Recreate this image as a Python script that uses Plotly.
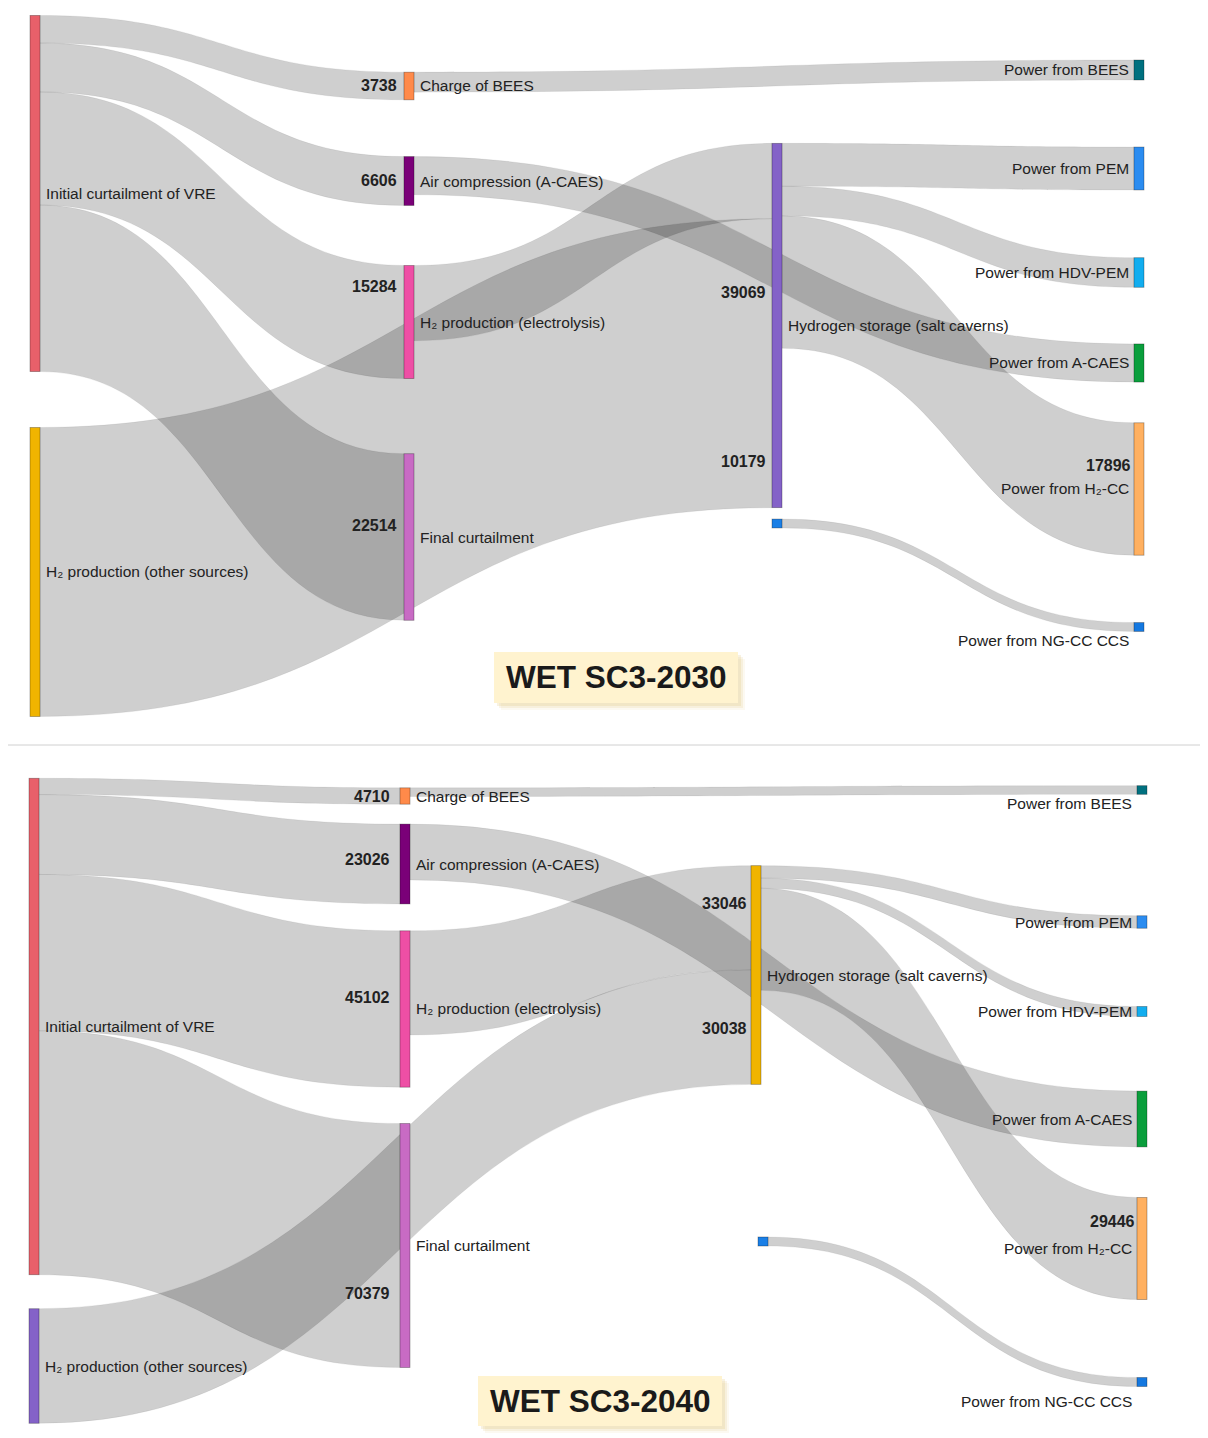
import plotly.graph_objects as go

# canvas size in px (margins are zero, the page adds an 8px body margin)
W, H = 1208, 1438
OFF = 8

# ---- data ---------------------------------------------------------------
node_labels = [
    "Initial curtailment of VRE",
    "H₂ production (other sources)",
    "Charge of BEES",
    "Air compression (A-CAES)",
    "H₂ production (electrolysis)",
    "Final curtailment",
    "Hydrogen storage (salt caverns)",
    "",
    "Power from BEES",
    "Power from PEM",
    "Power from HDV-PEM",
    "Power from A-CAES",
    "Power from H₂-CC",
    "Power from NG-CC CCS",
]
link_source = [0, 0, 0, 0, 1, 4, 2, 3, 6, 6, 6, 7]
link_target = [2, 3, 4, 5, 6, 6, 8, 11, 9, 10, 12, 13]
values_2030 = [3738, 6606, 15284, 22514, 39069, 10179, 2700, 5150, 5800, 4000, 17896, 1200]
values_2040 = [4710, 23026, 45102, 70379, 33046, 30038, 2500, 16100, 3600, 2900, 29446, 2600]
titles = ["WET SC3-2030", "WET SC3-2040"]

# ---- styling ------------------------------------------------------------
colors_2030 = ["#E8606A", "#F0B400", "#FF8A4A", "#7A0078", "#EE4FA5", "#C86BC4", "#8462C8",
               "#1A7FE6", "#00707F", "#2B8CF0", "#12ADEF", "#0A9E3C", "#FFB060", "#1478E0"]
colors_2040 = list(colors_2030)
colors_2040[1] = "#8462C8"
colors_2040[6] = "#F0B400"

LINK_COLOR = "rgba(0,0,0,0.19)"
FONT = "Arial, Liberation Sans, sans-serif"
TEXT = "#222222"

# node centres in screen pixels for each panel, plus domain (top, bottom) and node padding
panels = [
    dict(
        values=values_2030, colors=colors_2030, top=8, bottom=728, pad=33,
        x=[35, 35, 409, 409, 409, 409, 777, 777, 1139, 1139, 1139, 1139, 1139, 1139],
        y=[193.5, 572, 86, 181, 322, 537, 325.5, 523.5, 70, 168.5, 272.5, 363, 489, 627],
        label_dy={13: 14},
        numbers=[(0, 399, 86), (1, 399, 180), (2, 399, 287), (3, 399, 525),
                 (4, 768, 292), (5, 768, 462), (10, 1133, 466)],
        box=(494, 652, 738, 703),
    ),
    dict(
        values=values_2040, colors=colors_2040, top=768, bottom=1446, pad=29,
        x=[34, 34, 405, 405, 405, 405, 756, 763, 1142, 1142, 1142, 1142, 1142, 1142],
        y=[1026.5, 1366, 796, 864, 1009, 1245.5, 975, 1241.5, 790, 922, 1011.5, 1119, 1248.5, 1382],
        label_dy={8: 13, 13: 19},
        numbers=[(0, 392, 796), (1, 392, 860), (2, 392, 997), (3, 392, 1293),
                 (4, 749, 903), (5, 749, 1028), (10, 1137, 1221)],
        box=(478, 1376, 722, 1426),
    ),
]

RIGHT_COLUMN = {8, 9, 10, 11, 12, 13}


def px(x):
    return (x - OFF) / W


def py(y):
    return 1 - (y - OFF) / H


fig = go.Figure()
annotations = []
shapes = []

for p, title in zip(panels, titles):
    span = p["bottom"] - p["top"]
    fig.add_trace(go.Sankey(
        arrangement="fixed",
        domain=dict(x=[0, 1], y=[max(0, py(p["bottom"])), min(1, py(p["top"]))]),
        textfont=dict(color="rgba(0,0,0,0)", size=1),
        node=dict(
            label=node_labels,
            color=p["colors"],
            x=[px(xx) for xx in p["x"]],
            y=[(yy - p["top"]) / span for yy in p["y"]],
            pad=p["pad"],
            thickness=10,
            line=dict(color="rgba(0,0,0,0.35)", width=0.8),
        ),
        link=dict(
            source=link_source,
            target=link_target,
            value=p["values"],
            color=LINK_COLOR,
            line=dict(color="rgba(0,0,0,0.12)", width=0.5),
        ),
    ))

    # node labels
    for i, name in enumerate(node_labels):
        if not name:
            continue
        right = i in RIGHT_COLUMN
        annotations.append(dict(
            x=px(p["x"][i] - 8 if right else p["x"][i] + 9),
            y=py(p["y"][i] + p["label_dy"].get(i, 0)),
            xref="paper", yref="paper", showarrow=False,
            xanchor="right" if right else "left", yanchor="middle",
            text=name, font=dict(family=FONT, size=15.5, color=TEXT),
        ))

    # bold flow values
    for li, xr, yv in p["numbers"]:
        annotations.append(dict(
            x=px(xr), y=py(yv), xref="paper", yref="paper", showarrow=False,
            xanchor="right", yanchor="middle",
            text=f"<b>{p['values'][li]}</b>",
            font=dict(family=FONT, size=16, color=TEXT),
        ))

    # title box with soft shadow
    x0, y0, x1, y1 = p["box"]
    for d, a in [(7, 0.10), (5, 0.16), (3, 0.22)]:
        shapes.append(dict(type="rect", xref="paper", yref="paper",
                           x0=px(x0 + d), x1=px(x1 + d), y0=py(y1 + d), y1=py(y0 + d),
                           fillcolor=f"rgba(225,195,120,{a})", line=dict(width=0), layer="above"))
    shapes.append(dict(type="rect", xref="paper", yref="paper",
                       x0=px(x0), x1=px(x1), y0=py(y1), y1=py(y0),
                       fillcolor="#FFF3CF", line=dict(width=0), layer="above"))
    annotations.append(dict(
        x=px((x0 + x1) / 2), y=py((y0 + y1) / 2), xref="paper", yref="paper",
        showarrow=False, xanchor="center", yanchor="middle",
        text=f"<b>{title}</b>", font=dict(family=FONT, size=31.5, color="#1a1a1a"),
    ))

# separator between the two diagrams
shapes.append(dict(type="line", xref="paper", yref="paper",
                   x0=px(8), x1=px(1208), y0=py(745), y1=py(745),
                   line=dict(color="#D0D0D0", width=1)))

fig.update_layout(
    width=W, height=H,
    margin=dict(l=0, r=0, t=0, b=0),
    paper_bgcolor="white",
    font=dict(family=FONT, color=TEXT),
    annotations=annotations,
    shapes=shapes,
    showlegend=False,
)

fig.write_html("out.html")
